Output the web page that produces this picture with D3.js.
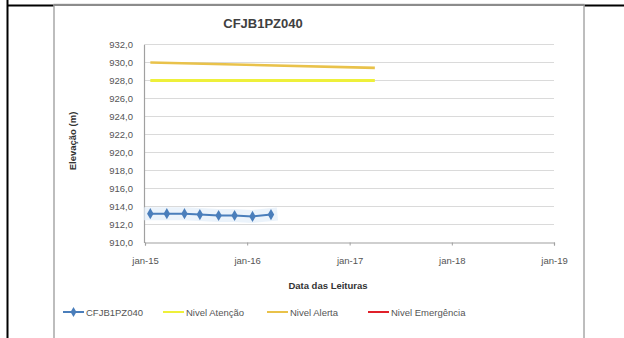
<!DOCTYPE html>
<html><head><meta charset="utf-8">
<script src="https://cdn.jsdelivr.net/npm/d3@7"></script>
<style>body{margin:0;background:#fff}svg{display:block}</style>
</head><body>
<script>
// ---- data ----
const readingDates = ["2015-01-20","2015-03-20","2015-05-22","2015-07-16","2015-09-21","2015-11-17","2016-01-20","2016-03-26"];
const readingValues = [913.2, 913.2, 913.2, 913.1, 913.0, 913.0, 912.9, 913.1];
const atencaoDates = ["2015-01-20","2017-04-01"];
const atencaoValues = [928.0, 928.0];
const alertaDates = ["2015-01-20","2017-04-01"];
const alertaValues = [930.0, 929.4];
const yTicks = [910,912,914,916,918,920,922,924,926,928,930,932];
const xTickDates = ["2015-01-01","2016-01-01","2017-01-01","2018-01-01","2019-01-01"];
const legendLabels = ["CFJB1PZ040","Nivel Atenção","Nivel Alerta","Nivel Emergência"];
const seriesColors = ["#4A7EBB","#EEF03A","#E9C24A","#E0202A"];

const W = 624, H = 338;
const font = "'Liberation Sans', Arial, sans-serif";
const parse = d3.timeParse("%Y-%m-%d");
const svg = d3.select("body").append("svg").attr("width", W).attr("height", H);

// frame (scanned table)
svg.append("rect").attr("x",0).attr("y",0).attr("width",W).attr("height",H).attr("fill","#fff");
svg.append("line").attr("x1",7.5).attr("x2",7.5).attr("y1",0).attr("y2",H).attr("stroke","#000").attr("stroke-width",2);
svg.append("line").attr("x1",7).attr("x2",W).attr("y1",5.5).attr("y2",5.5).attr("stroke","#000").attr("stroke-width",2);
svg.append("rect").attr("x",54).attr("y",4.5).attr("width",530).attr("height",H).attr("fill","#fff").attr("stroke","#A8A8A8").attr("stroke-width",1.5);
svg.append("line").attr("x1",54).attr("x2",584).attr("y1",5).attr("y2",5).attr("stroke","#8c8c8c").attr("stroke-width",2);

const x = d3.scaleTime().domain([parse(xTickDates[0]), parse(xTickDates[xTickDates.length-1])]).range([145, 554]);
const y = d3.scaleLinear().domain([910, 932]).range([242.5, 44.5]);

// gridlines
svg.append("g").selectAll("line").data(yTicks.slice(1)).join("line")
  .attr("x1",144).attr("x2",554).attr("y1",d=>y(d)).attr("y2",d=>y(d))
  .attr("stroke","#DADADA").attr("stroke-width",1.2);

// axes
const yAxis = svg.append("g").attr("transform","translate(144,0)")
  .call(d3.axisLeft(y).tickValues(yTicks).tickSize(0).tickPadding(11).tickFormat(d=>d3.format(".1f")(d).replace(".",",")));
yAxis.select(".domain").attr("stroke","#A0A0A0").attr("stroke-width",1.2);
yAxis.selectAll("text").attr("font-family",font).attr("font-size",9.5).attr("fill","#555");

const xAxis = svg.append("g").attr("transform",`translate(0,${y(910)})`)
  .call(d3.axisBottom(x).tickValues(xTickDates.map(parse)).tickSize(3).tickPadding(12)
    .tickFormat(d=>"jan-"+d3.timeFormat("%y")(d)));
xAxis.select(".domain").attr("stroke","#A0A0A0").attr("stroke-width",1.2);
xAxis.selectAll(".tick line").attr("stroke","#A0A0A0");
xAxis.selectAll("text").attr("font-family",font).attr("font-size",9.5).attr("fill","#555");

// titles
svg.append("text").attr("x",263).attr("y",28).attr("text-anchor","middle")
  .attr("font-family",font).attr("font-weight","bold").attr("font-size",13).attr("fill","#404040").text("CFJB1PZ040");
svg.append("text").attr("transform","translate(76,141) rotate(-90)").attr("text-anchor","middle")
  .attr("font-family",font).attr("font-weight","bold").attr("font-size",9.5).attr("fill","#333").text("Elevação (m)");
svg.append("text").attr("x",328).attr("y",289).attr("text-anchor","middle")
  .attr("font-family",font).attr("font-weight","bold").attr("font-size",9.5).attr("fill","#333").text("Data das Leituras");

const line = d3.line().x(d=>x(d[0])).y(d=>y(d[1]));
const zip = (ds, vs) => ds.map((d,i)=>[parse(d), vs[i]]);

// limit lines
svg.append("path").datum(zip(atencaoDates, atencaoValues)).attr("d",line)
  .attr("fill","none").attr("stroke",seriesColors[1]).attr("stroke-width",2.8);
svg.append("path").datum(zip(alertaDates, alertaValues)).attr("d",line)
  .attr("fill","none").attr("stroke",seriesColors[2]).attr("stroke-width",2.6);

// readings
const rd = zip(readingDates, readingValues);
svg.append("path").datum(rd).attr("d",line).attr("fill","none").attr("stroke","#E3EEF9").attr("stroke-width",13).attr("stroke-linecap","square").attr("opacity",0.7);
svg.append("path").datum(rd).attr("d",line).attr("fill","none").attr("stroke",seriesColors[0]).attr("stroke-width",2);
svg.append("g").selectAll("path").data(rd).join("path")
  .attr("d", d3.symbol(d3.symbolDiamond, 36))
  .attr("transform", d=>`translate(${x(d[0])},${y(d[1])})`)
  .attr("fill",seriesColors[0]);

// legend
const legX = [63, 163, 267, 368];
const lg = svg.append("g").selectAll("g").data(legendLabels).join("g")
  .attr("transform",(d,i)=>`translate(${legX[i]},312)`);
lg.append("line").attr("x1",0).attr("x2",21).attr("y1",0).attr("y2",0)
  .attr("stroke",(d,i)=>seriesColors[i]).attr("stroke-width",2);
lg.filter((d,i)=>i===0).append("path").attr("d",d3.symbol(d3.symbolDiamond,30)).attr("transform","translate(10.5,0)").attr("fill",seriesColors[0]);
lg.append("text").attr("x",23).attr("y",3.5).attr("font-family",font).attr("font-size",9.5).attr("fill","#555").text(d=>d);
</script>
</body></html>
